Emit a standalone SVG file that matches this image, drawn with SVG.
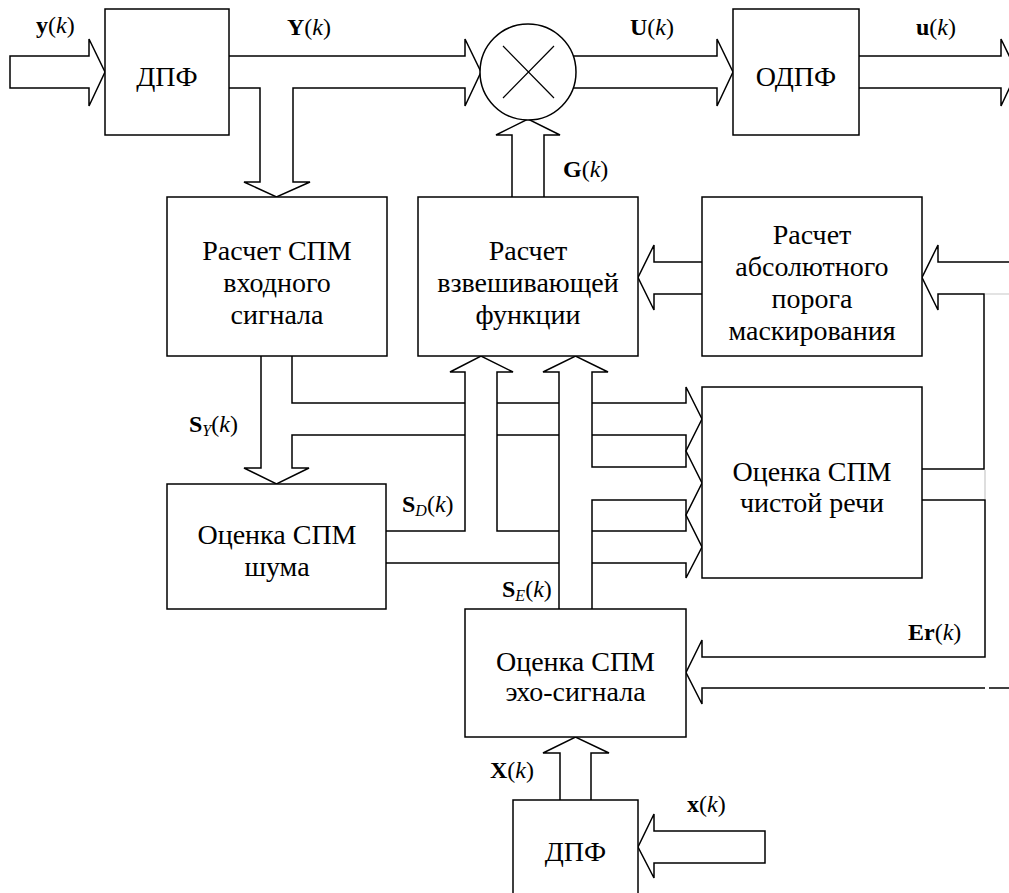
<svg xmlns="http://www.w3.org/2000/svg" width="1009" height="893" viewBox="0 0 1009 893">
<style>
.box{fill:#fff;stroke:#000;stroke-width:1.5}
.ln{fill:none;stroke:#000;stroke-width:1.5;stroke-linejoin:miter}
.gr{fill:none;stroke:#c8c8c8;stroke-width:1.2}
.t{font-family:"Liberation Serif","DejaVu Serif",serif;font-size:28px;fill:#000;text-anchor:middle}
.l{font-family:"Liberation Serif","DejaVu Serif",serif;font-size:24px;fill:#000}
.b{font-weight:bold}
.i{font-style:italic}
.s{font-style:italic;font-size:16px}
</style>
<rect width="1009" height="893" fill="#fff"/>
<g id="connectors">
  <path class="ln" d="M89,56 H10 V88 H89 V106 L105,72 L89,39 Z"/>
  <path class="ln" d="M229,56 H465 V39 L481,72 L465,106 V88 H293 V182 H310 L276.5,197 L244,182 H260 V88 H229"/>
  <path class="ln" d="M573,56 H717 V39 L733,72 L717,106 V88 H573"/>
  <path class="ln" d="M859,56 H1001 V39 L1017,72 L1001,106 V88 H859"/>
  <path class="ln" d="M512,197 V135 H496 L528,119 L560,135 H544 V197"/>
  <path class="ln" d="M702,262 H654 V245 L638,277.5 L654,310 V294 H702"/>
  <path class="ln" d="M1009,262 H938 V245 L922,277.5 L938,310 V294 H984 V469 H922"/>
  <path class="ln" d="M922,500 H985 V657 H702 V640 L686,672.5 L702,704 V688 H985"/>
  <path class="ln" d="M989,688 H1009"/>
  <path class="gr" d="M985,294 H1009 M985,470 V499"/>
  <path class="ln" d="M261,356 V468 H244 L276.5,484 L309,468 H292 V435 H465"/>
  <path class="ln" d="M292,356 V403 H465"/>
  <path class="ln" d="M497,403 H559 M497,435 H559"/>
  <path class="ln" d="M386,531 H465 V372 H450 L481,356 L513,372 H497 V531 H559"/>
  <path class="ln" d="M386,563 H559"/>
  <path class="ln" d="M559,609 V372 H543 L575.5,356 L608,372 H592 V467 H686 V435 H592"/>
  <path class="ln" d="M592,609 V500 H686 V531 H592"/>
  <path class="ln" d="M592,403 H686 V387 L702,419 L686,451 L702,483 L686,515 L702,547 L686,578 V563 H592"/>
  <path class="ln" d="M560,800 V753 H543 L575.5,737 L609,753 H591 V800"/>
  <path class="ln" d="M765,831 H654 V814 L638,847 L654,878 V863 H765 Z"/>
</g>
<g id="dft1">
  <rect class="box" x="105" y="9" width="124" height="126"/>
  <text class="t" x="167" y="86">ДПФ</text>
</g>
<g id="mult">
  <circle class="box" cx="528" cy="72" r="48"/>
  <path class="ln" d="M503,46 L554,98 M554,46 L503,98" style="stroke-width:1.2"/>
</g>
<g id="idft">
  <rect class="box" x="733" y="9" width="126" height="126"/>
  <text class="t" x="796" y="86">ОДПФ</text>
</g>
<g id="psd-in">
  <rect class="box" x="167" y="197" width="220" height="159"/>
  <text class="t" x="277" y="260">Расчет СПМ</text>
  <text class="t" x="277" y="292">входного</text>
  <text class="t" x="277" y="324">сигнала</text>
</g>
<g id="weight">
  <rect class="box" x="418" y="197" width="220" height="159"/>
  <text class="t" x="528" y="260">Расчет</text>
  <text class="t" x="528" y="292">взвешивающей</text>
  <text class="t" x="528" y="324">функции</text>
</g>
<g id="abs-thr">
  <rect class="box" x="702" y="197" width="220" height="159"/>
  <text class="t" x="812" y="244">Расчет</text>
  <text class="t" x="812" y="276">абсолютного</text>
  <text class="t" x="812" y="308">порога</text>
  <text class="t" x="812" y="340">маскирования</text>
</g>
<g id="noise">
  <rect class="box" x="167" y="484" width="219" height="125"/>
  <text class="t" x="277" y="544">Оценка СПМ</text>
  <text class="t" x="277" y="576">шума</text>
</g>
<g id="speech">
  <rect class="box" x="702" y="387" width="220" height="191"/>
  <text class="t" x="812" y="481">Оценка СПМ</text>
  <text class="t" x="812" y="512">чистой речи</text>
</g>
<g id="echo">
  <rect class="box" x="465" y="609" width="221" height="128"/>
  <text class="t" x="575.5" y="671">Оценка СПМ</text>
  <text class="t" x="575.5" y="701">эхо-сигнала</text>
</g>
<g id="dft2">
  <rect class="box" x="513" y="800" width="125" height="110"/>
  <text class="t" x="575.5" y="861">ДПФ</text>
</g>
<g id="labels">
  <text class="l" x="36" y="33"><tspan class="b">y</tspan>(<tspan class="i">k</tspan>)</text>
  <text class="l" x="287" y="35"><tspan class="b">Y</tspan>(<tspan class="i">k</tspan>)</text>
  <text class="l" x="630" y="35"><tspan class="b">U</tspan>(<tspan class="i">k</tspan>)</text>
  <text class="l" x="916" y="35"><tspan class="b">u</tspan>(<tspan class="i">k</tspan>)</text>
  <text class="l" x="563" y="177"><tspan class="b">G</tspan>(<tspan class="i">k</tspan>)</text>
  <text class="l" x="189" y="432"><tspan class="b">S</tspan><tspan class="s" dy="4">Y</tspan><tspan dy="-4">(</tspan><tspan class="i">k</tspan>)</text>
  <text class="l" x="402" y="512"><tspan class="b">S</tspan><tspan class="s" dy="4">D</tspan><tspan dy="-4">(</tspan><tspan class="i">k</tspan>)</text>
  <text class="l" x="502" y="597"><tspan class="b">S</tspan><tspan class="s" dy="4">E</tspan><tspan dy="-4">(</tspan><tspan class="i">k</tspan>)</text>
  <text class="l" x="908" y="640"><tspan class="b">Er</tspan>(<tspan class="i">k</tspan>)</text>
  <text class="l" x="490" y="778"><tspan class="b">X</tspan>(<tspan class="i">k</tspan>)</text>
  <text class="l" x="687" y="812"><tspan class="b">x</tspan>(<tspan class="i">k</tspan>)</text>
</g>
</svg>
